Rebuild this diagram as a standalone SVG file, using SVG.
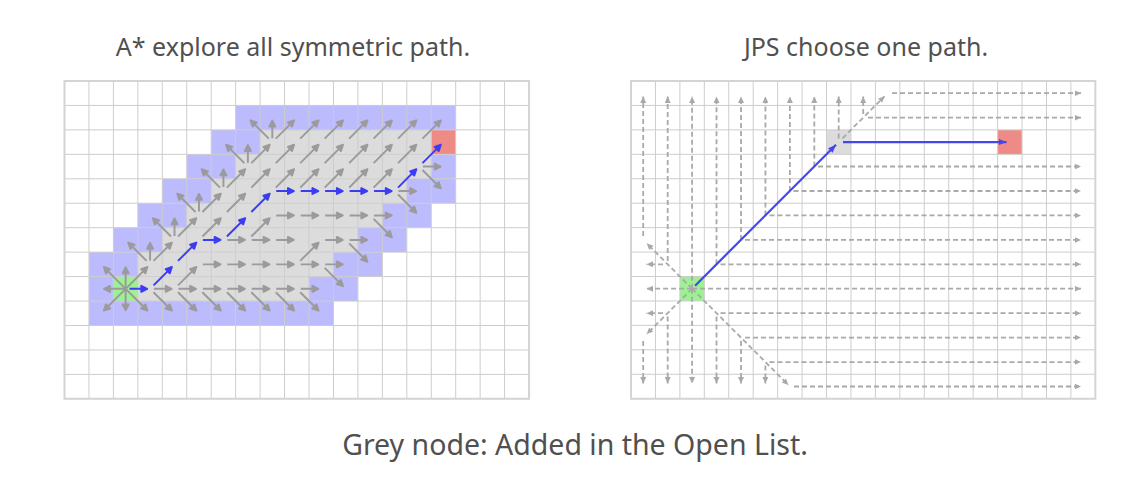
<svg xmlns="http://www.w3.org/2000/svg" xmlns:xlink="http://www.w3.org/1999/xlink" width="1148" height="480" viewBox="0 0 1148 480">
<style>
.t{font-family:"Noto Sans","Open Sans","DejaVu Sans",sans-serif;fill:#505050;text-anchor:middle}
.pu{fill:#bbbbfd}.gy{fill:#dcdcdc}.gn{fill:#9cf190}.rd{fill:#ef8b87}
.gl{fill:none;stroke:#cdcdcd;stroke-width:1;vector-effect:non-scaling-stroke}
.bd{fill:none;stroke:#d4d4d4;stroke-width:2;vector-effect:non-scaling-stroke}
.ar{fill:currentColor;stroke:currentColor;stroke-width:.08;stroke-linejoin:round}
.ga use{color:#9b9b9b}.ba use{color:#3c3cf2}
.dl{fill:none;stroke:#a9a9a9;stroke-width:1.8;stroke-dasharray:5 3;marker-end:url(#mg)}
.bl{fill:none;stroke:#4646ee;stroke-width:2.2;marker-end:url(#mb)}
</style>
<defs>
<path id="R" class="ar" d="M.16 0H.66M.88 0L.64-.12V.12Z"/>
<use id="U" href="#R" transform="rotate(-90)"/>
<path id="Dg" class="ar" d="M.2 0H1.04M1.26 0L1.02-.12V.12Z"/>
<use id="UR" href="#Dg" transform="rotate(-45)"/>
<use id="DR" href="#Dg" transform="rotate(45)"/>
<use id="UL" href="#Dg" transform="rotate(-135)"/>
<path id="Rs" class="ar" d="M0 0H.66M.88 0L.64-.12V.12Z"/>
<use id="Us" href="#Rs" transform="rotate(-90)"/>
<use id="Ls" href="#Rs" transform="rotate(180)"/>
<use id="Ds" href="#Rs" transform="rotate(90)"/>
<path id="Gs" class="ar" d="M0 0H1.04M1.26 0L1.02-.12V.12Z"/>
<use id="URs" href="#Gs" transform="rotate(-45)"/>
<use id="DRs" href="#Gs" transform="rotate(45)"/>
<use id="ULs" href="#Gs" transform="rotate(-135)"/>
<use id="DLs" href="#Gs" transform="rotate(135)"/>
<marker id="mg" markerUnits="userSpaceOnUse" markerWidth="8" markerHeight="8" refX="6.5" refY="3" orient="auto"><path d="M0 0L6.5 3L0 6Z" fill="#a9a9a9"/></marker>
<marker id="mb" markerUnits="userSpaceOnUse" markerWidth="10" markerHeight="8" refX="8" refY="3.2" orient="auto"><path d="M0 0L8 3.2L0 6.4Z" fill="#4646ee"/></marker>
</defs>
<rect width="1148" height="480" fill="#fff"/>
<g id="titles">
<text class="t" x="293" y="56" font-size="25">A* explore all symmetric path.</text>
<text class="t" x="866" y="56" font-size="25">JPS choose one path.</text>
<text class="t" x="575" y="455" font-size="28.5">Grey node: Added in the Open List.</text>
</g>
<g id="astar" transform="translate(64.5 81) scale(24.45)">
<g id="astar-cells">
<rect class="pu" x="7" y="1" width="9" height="1"/>
<rect class="pu" x="6" y="2" width="2" height="1"/><rect class="gy" x="8" y="2" width="7" height="1"/><rect class="rd" x="15" y="2" width="1" height="1"/>
<rect class="pu" x="5" y="3" width="2" height="1"/><rect class="gy" x="7" y="3" width="8" height="1"/><rect class="pu" x="15" y="3" width="1" height="1"/>
<rect class="pu" x="4" y="4" width="2" height="1"/><rect class="gy" x="6" y="4" width="8" height="1"/><rect class="pu" x="14" y="4" width="2" height="1"/>
<rect class="pu" x="3" y="5" width="2" height="1"/><rect class="gy" x="5" y="5" width="8" height="1"/><rect class="pu" x="13" y="5" width="2" height="1"/>
<rect class="pu" x="2" y="6" width="2" height="1"/><rect class="gy" x="4" y="6" width="8" height="1"/><rect class="pu" x="12" y="6" width="2" height="1"/>
<rect class="pu" x="1" y="7" width="2" height="1"/><rect class="gy" x="3" y="7" width="8" height="1"/><rect class="pu" x="11" y="7" width="2" height="1"/>
<rect class="pu" x="1" y="8" width="1" height="1"/><rect class="gn" x="2" y="8" width="1" height="1"/><rect class="gy" x="3" y="8" width="7" height="1"/><rect class="pu" x="10" y="8" width="2" height="1"/>
<rect class="pu" x="1" y="9" width="10" height="1"/>
</g>
<path class="gl" d="M1 0V13M2 0V13M3 0V13M4 0V13M5 0V13M6 0V13M7 0V13M8 0V13M9 0V13M10 0V13M11 0V13M12 0V13M13 0V13M14 0V13M15 0V13M16 0V13M17 0V13M18 0V13M0 1H19M0 2H19M0 3H19M0 4H19M0 5H19M0 6H19M0 7H19M0 8H19M0 9H19M0 10H19M0 11H19M0 12H19"/>
<rect class="bd" x="0" y="0" width="19" height="13"/>
<g id="astar-connectors">
<g class="ga">
<use href="#ULs" x="2.5" y="8.5"/><use href="#Us" x="2.5" y="8.5"/><use href="#URs" x="2.5" y="8.5"/><use href="#Ls" x="2.5" y="8.5"/><use href="#DLs" x="2.5" y="8.5"/><use href="#Ds" x="2.5" y="8.5"/><use href="#DRs" x="2.5" y="8.5"/>
<use href="#UL" x="3.5" y="7.5"/><use href="#U" x="3.5" y="7.5"/><use href="#UR" x="3.5" y="7.5"/>
<use href="#UL" x="4.5" y="6.5"/><use href="#U" x="4.5" y="6.5"/><use href="#UR" x="4.5" y="6.5"/>
<use href="#UL" x="5.5" y="5.5"/><use href="#U" x="5.5" y="5.5"/><use href="#UR" x="5.5" y="5.5"/>
<use href="#UL" x="6.5" y="4.5"/><use href="#U" x="6.5" y="4.5"/><use href="#UR" x="6.5" y="4.5"/>
<use href="#UL" x="7.5" y="3.5"/><use href="#U" x="7.5" y="3.5"/><use href="#UR" x="7.5" y="3.5"/>
<use href="#UL" x="8.5" y="2.5"/><use href="#U" x="8.5" y="2.5"/><use href="#UR" x="8.5" y="2.5"/>
<use href="#UR" x="9.5" y="2.5"/><use href="#UR" x="10.5" y="2.5"/><use href="#UR" x="11.5" y="2.5"/><use href="#UR" x="12.5" y="2.5"/><use href="#UR" x="13.5" y="2.5"/><use href="#UR" x="14.5" y="2.5"/>
<use href="#UR" x="8.5" y="3.5"/><use href="#UR" x="9.5" y="3.5"/><use href="#UR" x="10.5" y="3.5"/><use href="#UR" x="11.5" y="3.5"/><use href="#UR" x="12.5" y="3.5"/><use href="#UR" x="13.5" y="3.5"/>
<use href="#UR" x="7.5" y="4.5"/><use href="#UR" x="8.5" y="4.5"/><use href="#UR" x="9.5" y="4.5"/><use href="#UR" x="10.5" y="4.5"/><use href="#UR" x="11.5" y="4.5"/><use href="#UR" x="12.5" y="4.5"/>
<use href="#UR" x="6.5" y="5.5"/><use href="#UR" x="5.5" y="6.5"/><use href="#UR" x="7.5" y="6.5"/><use href="#UR" x="9.5" y="7.5"/><use href="#UR" x="4.5" y="8.5"/>
<use href="#R" x="14.5" y="3.5"/><use href="#R" x="13.5" y="4.5"/>
<use href="#R" x="8.5" y="5.5"/><use href="#R" x="9.5" y="5.5"/><use href="#R" x="10.5" y="5.5"/><use href="#R" x="11.5" y="5.5"/><use href="#R" x="12.5" y="5.5"/>
<use href="#R" x="6.5" y="6.5"/><use href="#R" x="7.5" y="6.5"/><use href="#R" x="8.5" y="6.5"/><use href="#R" x="10.5" y="6.5"/><use href="#R" x="11.5" y="6.5"/>
<use href="#R" x="5.5" y="7.5"/><use href="#R" x="6.5" y="7.5"/><use href="#R" x="7.5" y="7.5"/><use href="#R" x="8.5" y="7.5"/><use href="#R" x="9.5" y="7.5"/><use href="#R" x="10.5" y="7.5"/>
<use href="#R" x="3.5" y="8.5"/><use href="#R" x="4.5" y="8.5"/><use href="#R" x="5.5" y="8.5"/><use href="#R" x="6.5" y="8.5"/><use href="#R" x="7.5" y="8.5"/><use href="#R" x="8.5" y="8.5"/><use href="#R" x="9.5" y="8.5"/>
<use href="#DR" x="14.5" y="3.5"/><use href="#DR" x="13.5" y="4.5"/><use href="#DR" x="12.5" y="5.5"/><use href="#DR" x="11.5" y="6.5"/><use href="#DR" x="10.5" y="7.5"/>
<use href="#DR" x="3.5" y="8.5"/><use href="#DR" x="4.5" y="8.5"/><use href="#DR" x="5.5" y="8.5"/><use href="#DR" x="6.5" y="8.5"/><use href="#DR" x="7.5" y="8.5"/><use href="#DR" x="8.5" y="8.5"/><use href="#DR" x="9.5" y="8.5"/>
</g>
<g class="ba">
<use href="#R" x="2.5" y="8.5"/><use href="#UR" x="3.5" y="8.5"/><use href="#UR" x="4.5" y="7.5"/><use href="#R" x="5.5" y="6.5"/><use href="#UR" x="6.5" y="6.5"/><use href="#UR" x="7.5" y="5.5"/>
<use href="#R" x="8.5" y="4.5"/><use href="#R" x="9.5" y="4.5"/><use href="#R" x="10.5" y="4.5"/><use href="#R" x="11.5" y="4.5"/><use href="#R" x="12.5" y="4.5"/>
<use href="#UR" x="13.5" y="4.5"/><use href="#UR" x="14.5" y="3.5"/>
</g>
</g>
</g>
<g id="jps">
<g transform="translate(631 81) scale(24.44)">
<rect class="gy" x="8" y="2" width="1" height="1"/>
<rect class="gn" x="2" y="8" width="1" height="1"/>
<rect class="rd" x="15" y="2" width="1" height="1"/>
<path class="gl" d="M1 0V13M2 0V13M3 0V13M4 0V13M5 0V13M6 0V13M7 0V13M8 0V13M9 0V13M10 0V13M11 0V13M12 0V13M13 0V13M14 0V13M15 0V13M16 0V13M17 0V13M18 0V13M0 1H19M0 2H19M0 3H19M0 4H19M0 5H19M0 6H19M0 7H19M0 8H19M0 9H19M0 10H19M0 11H19M0 12H19"/>
<rect class="bd" x="0" y="0" width="19" height="13"/>
</g>
<g id="jps-connectors">
<path class="dl" d="M643.2 236V96.5"/>
<path class="dl" d="M667.7 261V96.5"/>
<path class="dl" d="M692.1 288.7V96.5"/>
<path class="dl" d="M716.5 264.3V96.5"/>
<path class="dl" d="M741 239.9V96.5"/>
<path class="dl" d="M765.4 215.4V96.5"/>
<path class="dl" d="M789.9 191V96.5"/>
<path class="dl" d="M814.3 166.5V96.5"/>
<path class="dl" d="M838.7 138.5V96.5"/>
<path class="dl" d="M863.2 114V96.5"/>
<path class="dl" d="M892 93.2H1081"/>
<path class="dl" d="M868 117.7H1081"/>
<path class="dl" d="M818 166.5H1081"/>
<path class="dl" d="M793.5 191H1081"/>
<path class="dl" d="M769.5 215.4H1081"/>
<path class="dl" d="M745 239.9H1081"/>
<path class="dl" d="M720.5 264.3H1081"/>
<path class="dl" d="M692.1 288.7H1081"/>
<path class="dl" d="M720.5 313.2H1081"/>
<path class="dl" d="M745 337.6H1081"/>
<path class="dl" d="M769.5 362.1H1081"/>
<path class="dl" d="M794 386.5H1081"/>
<path class="dl" d="M663 264.3H646.5"/>
<path class="dl" d="M692.1 288.7H646.5"/>
<path class="dl" d="M663 313.2H646.5"/>
<path class="dl" d="M643.2 341V383.5"/>
<path class="dl" d="M667.7 316.5V383.5"/>
<path class="dl" d="M692.1 288.7V383.5"/>
<path class="dl" d="M716.5 316.5V383.5"/>
<path class="dl" d="M741 341V383.5"/>
<path class="dl" d="M765.4 365.5V383.5"/>
<path class="dl" d="M692.1 288.7L646.7 243.3"/>
<path class="dl" d="M692.1 288.7L788.4 385"/>
<path class="dl" d="M692.1 288.7L646.7 334.1"/>
<path class="dl" d="M842.5 138.3L884.5 96.3"/>
<path class="bl" d="M695.1 285.7L836 144.8"/>
<path class="bl" d="M843 142.1H1006.5"/>
</g>
</g>
</svg>
